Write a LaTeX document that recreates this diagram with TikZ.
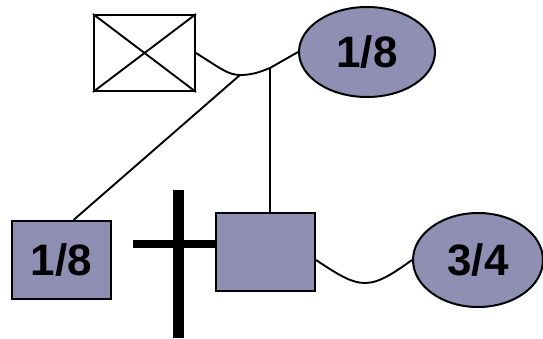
\documentclass[tikz,border=0pt]{standalone}
\usepackage{fontspec}
\setmainfont{Liberation Sans}
\definecolor{lav}{HTML}{8F8FB3}
\tikzset{
    sq/.style={draw,fill=lav,line width=2pt,minimum width=99pt,minimum height=78pt,inner sep=0pt,font=\fontsize{44}{44}\selectfont\bfseries},
    ell/.style={draw,fill=lav,ellipse,line width=2pt,inner sep=0pt,font=\fontsize{44}{44}\selectfont\bfseries},
    wire/.style={line width=1.9pt}
}
\usetikzlibrary{shapes.geometric}
\begin{document}
\begin{tikzpicture}[x=1pt,y=1pt]
    \useasboundingbox (0,0) rectangle (543,338);
    \node[draw,line width=2pt,minimum width=101pt,minimum height=76pt] (box) at (144.5,285) {};
    \draw[wire] (box.north west) -- (box.south east) (box.south west) -- (box.north east);
    \node[ell,minimum width=136pt,minimum height=90pt] (top) at (367,286) {1/8};
    \node[sq] (left) at (61.5,78) {1/8};
    \node[sq] (mid) at (265.5,86) {};
    \node[ell,minimum width=130pt,minimum height=94pt] (right) at (478,78) {3/4};
    \coordinate (dip) at (240,263);
    \coordinate (join) at (270,270);
    \draw[wire] (box.east) .. controls (220,270) and (228,263) .. (dip) .. controls (252,263) and (260,266) .. (join) -- (top.west);
    \draw[wire] (join) -- (join |- mid.north);
    \draw[wire] (dip) -- ([xshift=12pt]left.north);
    \draw[wire] ([yshift=-8pt]mid.east) .. controls (340,62) and (352,55) .. (365,55) .. controls (380,55) and (395,66) .. (right.west);
    \draw[line width=11pt] (178.5,148) -- (178.5,0);
    \draw[line width=8pt] (133,94) -- (mid.west |- 0,94);
\end{tikzpicture}
\end{document}
